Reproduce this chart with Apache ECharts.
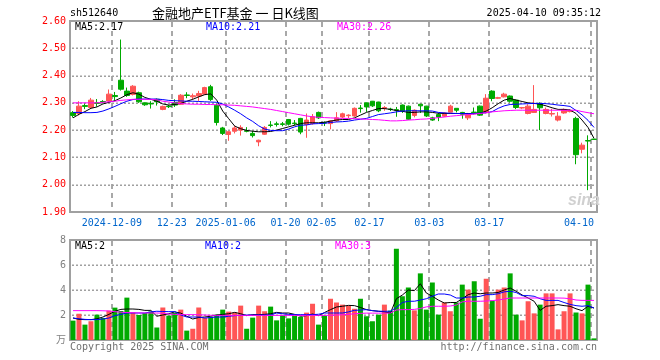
<!DOCTYPE html>
<html><head><meta charset="utf-8">
<script src="https://cdn.jsdelivr.net/npm/echarts@6/dist/echarts.min.js"></script>
<style>html,body{margin:0;padding:0;background:#fff}#c{width:660px;height:360px}</style>
</head><body><div id="c"></div>
<script>
const dates = ['2024-11-28','2024-11-29','2024-12-02','2024-12-03','2024-12-04','2024-12-05','2024-12-06',
'2024-12-09','2024-12-10','2024-12-11','2024-12-12','2024-12-13','2024-12-16','2024-12-17','2024-12-18','2024-12-19','2024-12-20',
'2024-12-23','2024-12-24','2024-12-25','2024-12-26','2024-12-27','2024-12-30','2024-12-31',
'2025-01-02','2025-01-03','2025-01-06','2025-01-07','2025-01-08','2025-01-09','2025-01-10','2025-01-13','2025-01-14','2025-01-15','2025-01-16','2025-01-17',
'2025-01-20','2025-01-21','2025-01-22','2025-01-23','2025-01-24','2025-01-27',
'2025-02-05','2025-02-06','2025-02-07','2025-02-10','2025-02-11','2025-02-12','2025-02-13','2025-02-14','2025-02-17','2025-02-18','2025-02-19','2025-02-20','2025-02-21',
'2025-02-24','2025-02-25','2025-02-26','2025-02-27','2025-02-28',
'2025-03-03','2025-03-04','2025-03-05','2025-03-06','2025-03-07','2025-03-10','2025-03-11','2025-03-12','2025-03-13','2025-03-14',
'2025-03-17','2025-03-18','2025-03-19','2025-03-20','2025-03-21','2025-03-24','2025-03-25','2025-03-26','2025-03-27','2025-03-28','2025-03-31',
'2025-04-01','2025-04-02','2025-04-03','2025-04-07','2025-04-08','2025-04-09','2025-04-10'];

const opens = [2.264,2.261,2.290,2.283,2.300,2.305,2.307,2.327,2.383,2.343,
2.331,2.337,2.300,2.298,2.313,2.276,2.288,2.301,2.295,2.329,
2.322,2.325,2.332,2.359,2.291,2.208,2.184,2.196,2.200,2.197,
2.188,2.157,2.185,2.219,2.223,2.223,2.239,2.226,2.243,2.221,
2.224,2.265,2.228,2.224,2.234,2.248,2.253,2.252,2.281,2.300,
2.306,2.303,2.280,2.277,2.275,2.292,2.288,2.254,2.295,2.288,
2.245,2.257,2.251,2.266,2.280,2.265,2.245,2.266,2.288,2.264,
2.343,2.317,2.322,2.325,2.310,2.281,2.261,2.265,2.298,2.261,
2.259,2.237,2.263,2.268,2.243,2.130,2.162,2.167];
const closes = [2.254,2.288,2.287,2.310,2.298,2.303,2.332,2.323,2.350,2.327,
2.361,2.304,2.293,2.296,2.304,2.287,2.286,2.292,2.328,2.327,
2.326,2.334,2.356,2.312,2.228,2.188,2.194,2.208,2.210,2.196,
2.180,2.163,2.210,2.217,2.221,2.221,2.222,2.224,2.193,2.237,
2.249,2.245,2.226,2.234,2.245,2.260,2.255,2.280,2.279,2.285,
2.289,2.271,2.283,2.276,2.273,2.271,2.240,2.273,2.289,2.252,
2.237,2.248,2.263,2.288,2.273,2.258,2.257,2.264,2.255,2.317,
2.316,2.319,2.332,2.306,2.283,2.283,2.288,2.276,2.282,2.276,
2.261,2.251,2.276,2.272,2.110,2.145,2.160,2.166];
const lows = [2.246,2.254,2.277,2.278,2.286,2.298,2.305,2.307,2.345,2.322,
2.327,2.300,2.289,2.279,2.290,2.273,2.281,2.285,2.293,2.317,
2.312,2.307,2.330,2.307,2.217,2.182,2.161,2.188,2.180,2.192,
2.173,2.141,2.183,2.210,2.213,2.214,2.217,2.217,2.185,2.172,
2.220,2.241,2.215,2.203,2.230,2.244,2.244,2.249,2.264,2.267,
2.285,2.266,2.271,2.270,2.249,2.263,2.237,2.247,2.263,2.248,
2.234,2.233,2.248,2.265,2.265,2.242,2.237,2.258,2.252,2.261,
2.306,2.314,2.320,2.301,2.277,2.277,2.258,2.264,2.200,2.258,
2.250,2.232,2.260,2.265,2.075,2.115,1.980,2.165];
const highs = [2.270,2.306,2.298,2.318,2.314,2.310,2.349,2.340,2.532,2.356,
2.365,2.341,2.301,2.306,2.316,2.290,2.293,2.313,2.332,2.339,
2.334,2.344,2.359,2.366,2.297,2.212,2.196,2.215,2.218,2.211,
2.197,2.165,2.215,2.233,2.231,2.230,2.241,2.237,2.245,2.261,
2.259,2.268,2.232,2.237,2.266,2.264,2.258,2.283,2.292,2.301,
2.307,2.304,2.288,2.282,2.285,2.294,2.290,2.276,2.296,2.289,
2.249,2.263,2.266,2.293,2.280,2.267,2.263,2.283,2.290,2.332,
2.346,2.322,2.337,2.327,2.312,2.285,2.295,2.365,2.302,2.283,
2.278,2.266,2.279,2.276,2.249,2.154,2.181,2.168];

const ma5 = [2.245,2.258,2.268,2.280,2.285,2.296,2.302,2.308,2.318,2.330,
2.337,2.332,2.320,2.313,2.306,2.296,2.292,2.294,2.298,2.306,
2.313,2.322,2.330,2.333,2.310,2.270,2.242,2.215,2.205,2.199,
2.196,2.194,2.194,2.195,2.200,2.206,2.212,2.218,2.224,2.227,
2.227,2.227,2.229,2.233,2.237,2.239,2.239,2.245,2.255,2.265,
2.272,2.279,2.279,2.276,2.272,2.269,2.265,2.265,2.267,2.267,
2.265,2.262,2.261,2.261,2.261,2.261,2.261,2.260,2.262,2.270,
2.282,2.297,2.310,2.316,2.310,2.305,2.300,2.298,2.295,2.289,
2.282,2.276,2.276,2.274,2.261,2.237,2.210,2.170];
const ma10 = [2.265,2.265,2.264,2.264,2.265,2.270,2.278,2.287,2.297,2.306,
2.312,2.314,2.314,2.314,2.314,2.312,2.309,2.308,2.307,2.306,
2.306,2.305,2.304,2.303,2.302,2.296,2.285,2.273,2.260,2.245,
2.232,2.216,2.204,2.199,2.198,2.198,2.204,2.212,2.218,2.219,
2.223,2.224,2.225,2.228,2.230,2.231,2.233,2.237,2.240,2.243,
2.250,2.257,2.260,2.263,2.267,2.270,2.271,2.271,2.271,2.271,
2.270,2.265,2.263,2.262,2.261,2.261,2.260,2.261,2.262,2.264,
2.268,2.280,2.289,2.294,2.295,2.296,2.297,2.298,2.298,2.297,
2.295,2.292,2.290,2.287,2.272,2.256,2.236,2.210];
const ma30 = [2.300,2.300,2.300,2.300,2.300,2.302,2.304,2.306,2.309,2.311,
2.313,2.313,2.313,2.313,2.311,2.306,2.303,2.300,2.297,2.296,
2.295,2.295,2.294,2.294,2.293,2.293,2.292,2.291,2.289,2.287,
2.285,2.282,2.279,2.276,2.272,2.268,2.264,2.260,2.256,2.252,
2.249,2.247,2.246,2.245,2.244,2.243,2.243,2.242,2.241,2.240,
2.239,2.238,2.236,2.234,2.234,2.235,2.237,2.238,2.240,2.241,
2.243,2.246,2.248,2.251,2.253,2.255,2.257,2.259,2.261,2.264,
2.267,2.269,2.271,2.272,2.273,2.273,2.273,2.273,2.273,2.273,
2.273,2.273,2.273,2.273,2.273,2.268,2.264,2.260];

const volumes = [1.55,2.10,1.23,1.50,2.03,1.76,2.35,2.59,2.32,3.39,
2.20,2.00,2.16,2.27,1.00,2.60,1.95,2.16,2.43,0.75,
0.90,2.60,1.76,1.84,2.03,2.43,2.27,2.20,2.75,0.90,
1.79,2.75,2.30,2.67,1.57,1.97,1.73,1.95,1.84,2.19,
2.90,1.23,1.95,3.30,3.00,2.83,2.75,2.50,3.30,1.90,
1.50,2.03,2.83,2.35,7.30,3.50,4.20,2.37,5.33,2.43,
4.60,2.03,3.00,2.30,3.00,4.43,4.03,4.70,1.70,4.90,
3.15,4.03,4.20,5.33,2.03,1.57,3.10,2.13,2.83,3.73,
3.73,0.85,2.30,3.73,2.20,2.13,4.43,0.13];
const volMa5 = [1.76,1.65,1.63,1.63,1.70,1.84,2.05,2.30,2.45,2.48,
2.48,2.45,2.37,2.37,1.90,2.00,2.10,2.25,2.15,1.90,
1.68,1.80,1.84,1.90,2.00,2.05,2.10,2.21,2.10,1.95,
2.03,2.03,2.05,2.10,2.21,2.16,2.16,2.05,1.90,1.95,
2.08,1.95,2.20,2.43,2.64,2.70,2.77,2.75,2.60,2.43,
2.35,2.30,2.25,2.16,3.30,3.60,4.00,3.95,4.50,3.76,
3.50,3.20,2.96,3.00,3.00,3.30,3.63,3.76,3.70,3.76,
3.76,3.80,4.00,4.16,3.90,3.60,3.36,3.10,2.37,2.70,
2.75,2.83,2.75,2.70,2.50,2.35,2.70,2.56];
const volMa10 = [1.76,1.70,1.65,1.63,1.63,1.68,1.76,1.95,2.05,2.16,
2.16,2.16,2.16,2.25,2.30,2.28,2.27,2.27,2.00,1.84,
1.84,1.84,1.76,1.80,1.84,1.84,1.90,1.95,1.97,2.00,
2.00,2.00,2.00,2.00,2.16,2.10,2.05,2.03,2.03,2.03,
2.03,2.06,2.16,2.16,2.16,2.16,2.25,2.37,2.40,2.43,
2.35,2.30,2.30,2.30,2.60,3.00,3.10,3.10,3.20,3.30,
3.50,3.68,3.68,3.60,3.36,3.36,3.44,3.44,3.50,3.63,
3.63,3.70,3.85,3.90,3.80,3.55,3.55,3.50,3.30,3.17,
3.17,3.17,3.00,2.85,2.75,2.70,2.75,2.56];
const volMa30 = [2.35,2.35,2.35,2.35,2.35,2.34,2.32,2.27,2.22,2.20,
2.18,2.17,2.16,2.16,2.16,2.14,2.08,2.05,2.03,2.03,
2.03,2.02,2.00,1.98,1.97,1.97,1.97,1.97,1.97,1.97,
1.97,1.97,1.97,1.97,1.97,1.97,1.97,1.97,1.97,1.97,
1.97,1.97,1.97,1.98,2.00,2.02,2.05,2.10,2.13,2.15,
2.15,2.15,2.15,2.16,2.40,2.43,2.43,2.45,2.52,2.65,
2.70,2.70,2.70,2.72,2.80,3.05,3.10,3.10,3.10,3.12,
3.15,3.20,3.28,3.36,3.36,3.36,3.36,3.36,3.36,3.36,
3.36,3.36,3.35,3.30,3.20,3.17,3.17,3.17];

const tickDates = ['2024-12-09','2024-12-23','2025-01-06','2025-01-20','2025-02-05','2025-02-17','2025-03-03','2025-03-17','2025-04-10'];
const tickLabels = ['2024-12-09','12-23','2025-01-06','01-20','02-05','02-17','03-03','03-17','04-10'];
const priceGridValues = [2.0, 2.1, 2.2, 2.3, 2.4, 2.5];
const volGridValues = [2, 4, 6];

const MONO = '"DejaVu Sans Mono", "Liberation Mono", "Noto Sans CJK SC", monospace';
const RED = '#ff5555', GREEN = '#00aa00';
const GRID_BORDER = '#a0a0a0';
const isTick = (i, v) => tickDates.indexOf(v) >= 0;

const candleData = dates.map((d, i) => [opens[i], closes[i], lows[i], highs[i]]);

const maLine = (data, color, xi, yi) => ({
  type: 'line', data, xAxisIndex: xi, yAxisIndex: yi, symbol: 'none', z: 4, silent: true,
  lineStyle: { color, width: 1 }
});
const txt = (text, x, y, color, extra) => ({
  type: 'text', x, y, silent: true, z: 10,
  style: Object.assign({ text, fill: color, font: '10px ' + MONO, textVerticalAlign: 'middle' }, extra || {})
});

const chart = echarts.init(document.getElementById('c'), null, { renderer: 'canvas' });
chart.setOption({
  animation: false,
  backgroundColor: '#ffffff',
  grid: [
    { left: 70, top: 21, width: 527, height: 191, show: true, borderColor: GRID_BORDER, borderWidth: 2 },
    { left: 70, top: 240, width: 527, height: 100, show: true, borderColor: GRID_BORDER, borderWidth: 2 }
  ],
  xAxis: [
    { type: 'category', gridIndex: 0, data: dates, boundaryGap: true,
      axisLine: { show: false }, axisTick: { show: false }, splitLine: { show: false },
      axisLabel: { interval: isTick,
        formatter: (v) => {
          const k = tickDates.indexOf(v);
          return k === tickDates.length - 1 ? '{n|' + tickLabels[k] + '}' : '{p|' + tickLabels[k] + '}';
        },
        rich: {
          p: { color: '#0066cc', fontFamily: MONO, fontSize: 10, padding: [0, 6, 0, 0] },
          n: { color: '#0066cc', fontFamily: MONO, fontSize: 10 }
        },
        color: '#0066cc', fontFamily: MONO, fontSize: 10, margin: 6, alignMaxLabel: 'right' } },
    { type: 'category', gridIndex: 1, data: dates, boundaryGap: true,
      axisLine: { show: false }, axisTick: { show: false }, splitLine: { show: false }, axisLabel: { show: false } }
  ],
  yAxis: [
    { type: 'value', gridIndex: 0, min: 1.9, max: 2.6, interval: 0.1,
      axisLine: { show: false }, axisTick: { show: false },
      axisLabel: { formatter: v => v.toFixed(2), color: '#ff0000', fontFamily: MONO, fontSize: 10, margin: 4 },
      splitLine: { show: false } },
    { type: 'value', gridIndex: 1, min: 0, max: 8, interval: 2,
      axisLine: { show: false }, axisTick: { show: false },
      axisLabel: { formatter: v => v === 0 ? '万' : String(v), color: '#808080', fontFamily: MONO, fontSize: 10, margin: 4 },
      splitLine: { show: false } }
  ],
  series: [
    { type: 'candlestick', xAxisIndex: 0, yAxisIndex: 0, data: candleData, barWidth: 5, z: 3, silent: true,
      itemStyle: { color: RED, color0: GREEN, borderColor: RED, borderColor0: GREEN, borderWidth: 1 } },
    maLine(ma5, '#000000', 0, 0),
    maLine(ma10, '#0000ff', 0, 0),
    maLine(ma30, '#ff00ff', 0, 0),
    { type: 'bar', xAxisIndex: 1, yAxisIndex: 1, data: volumes, barWidth: 5, z: 3, silent: true,
      itemStyle: { color: p => closes[p.dataIndex] >= opens[p.dataIndex] ? RED : GREEN } },
    maLine(volMa5, '#000000', 1, 1),
    maLine(volMa10, '#0000ff', 1, 1),
    maLine(volMa30, '#ff00ff', 1, 1)
  ]
});

// Grid guide lines, positioned through the chart's own axis scales.
const guides = [];
const band = chart.convertToPixel({ xAxisIndex: 0 }, dates[1]) - chart.convertToPixel({ xAxisIndex: 0 }, dates[0]);
const panes = [
  { xi: 0, yi: 0, top: chart.convertToPixel({ yAxisIndex: 0 }, 2.6), bottom: chart.convertToPixel({ yAxisIndex: 0 }, 1.9), levels: priceGridValues },
  { xi: 1, yi: 1, top: chart.convertToPixel({ yAxisIndex: 1 }, 8), bottom: chart.convertToPixel({ yAxisIndex: 1 }, 0), levels: volGridValues }
];
const leftPx = chart.convertToPixel({ xAxisIndex: 0 }, dates[0]) - band / 2;
const rightPx = chart.convertToPixel({ xAxisIndex: 0 }, dates[dates.length - 1]) + band / 2;
panes.forEach(p => {
  const top = Math.round(p.top) + 1, bottom = Math.round(p.bottom) - 1;
  tickDates.forEach(d => {
    const x = Math.round(chart.convertToPixel({ xAxisIndex: p.xi }, d) - band / 2) - 1;
    for (let y = top; y < bottom; y += 9) {
      guides.push({ type: 'rect', silent: true, z: 1,
        shape: { x: x, y: y, width: 2, height: Math.min(5, bottom - y) }, style: { fill: '#a8a8a8' } });
    }
  });
  p.levels.forEach(v => {
    const y = Math.round(chart.convertToPixel({ yAxisIndex: p.yi }, v));
    for (let x = Math.round(leftPx) + 2; x < Math.round(rightPx) - 2; x += 4) {
      guides.push({ type: 'rect', silent: true, z: 1,
        shape: { x: x, y: y - 0.5, width: 2, height: 1.5 }, style: { fill: '#a0a0a0' } });
    }
  });
});

chart.setOption({
  graphic: guides.concat([
    txt('sh512640', 70, 13, '#000000'),
    { type: 'text', x: 152, y: 13, silent: true, z: 10,
      style: { text: '金融地产ETF基金 一 日K线图', fill: '#000000', font: '13px "Noto Sans CJK SC", sans-serif', textVerticalAlign: 'middle' } },
    txt('2025-04-10 09:35:12', 601, 13, '#000000', { textAlign: 'right' }),
    txt('MA5:2.17', 75, 27, '#000000'),
    txt('MA10:2.21', 206, 27, '#0000ff'),
    txt('MA30:2.26', 337, 27, '#ff00ff'),
    txt('MA5:2', 75, 246, '#000000'),
    txt('MA10:2', 205, 246, '#0000ff'),
    txt('MA30:3', 335, 246, '#ff00ff'),
    txt('Copyright 2025 SINA.COM', 70, 347, '#707070'),
    txt('http://finance.sina.com.cn', 597, 347, '#707070', { textAlign: 'right' }),
    { type: 'text', x: 584, y: 201, silent: true, z: 10,
      style: { text: 'sina', fill: '#d0d0d0', font: 'italic bold 16px "Liberation Sans", Arial, sans-serif', textAlign: 'center', textVerticalAlign: 'middle' } }
  ])
});
</script>
</body></html>
